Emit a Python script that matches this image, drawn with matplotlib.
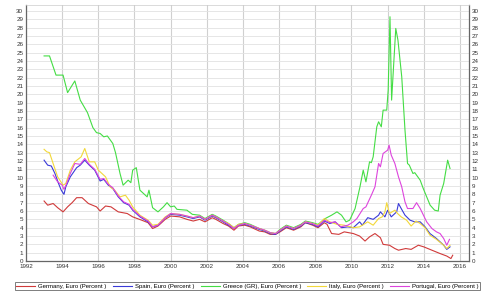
import matplotlib
matplotlib.use("Agg")
import matplotlib.pyplot as plt

plt.rcParams["font.family"] = ["Liberation Sans", "DejaVu Sans"]

# ---- data (decimal years, percent) ----
germany_x = [1993.0, 1993.2, 1993.5, 1993.75, 1994.05, 1994.3, 1994.55, 1994.8, 1995.1, 1995.45,
             1995.9, 1996.1, 1996.4, 1996.7, 1997.1, 1997.6, 1997.9, 1998.4, 1998.75, 1999.0,
             1999.3, 1999.7, 2000.0, 2000.5, 2000.9, 2001.25, 2001.6, 2001.9, 2002.3, 2002.5,
             2002.9, 2003.2, 2003.5, 2003.75, 2004.1, 2004.4, 2004.9, 2005.2, 2005.5, 2005.8,
             2006.05, 2006.4, 2006.8, 2007.2, 2007.45, 2007.85, 2008.15, 2008.5, 2008.65, 2008.9,
             2009.3, 2009.6, 2010.1, 2010.45, 2010.75, 2011.0, 2011.3, 2011.6, 2011.75, 2012.1,
             2012.4, 2012.6, 2013.0, 2013.3, 2013.7, 2014.0, 2014.45, 2014.9, 2015.27, 2015.5, 2015.6]
germany_y = [7.2, 6.7, 6.9, 6.4, 5.9, 6.5, 7.0, 7.6, 7.6, 6.9,
             6.5, 6.0, 6.6, 6.5, 5.9, 5.7, 5.3, 4.9, 4.6, 3.9,
             4.2, 5.0, 5.4, 5.3, 5.0, 4.8, 5.0, 4.7, 5.2, 5.0,
             4.5, 4.2, 3.7, 4.2, 4.3, 4.1, 3.6, 3.5, 3.2, 3.2,
             3.5, 4.0, 3.7, 4.1, 4.6, 4.3, 4.0, 4.6, 4.4, 3.3,
             3.2, 3.5, 3.3, 3.0, 2.4, 2.9, 3.3, 2.8, 2.0, 1.9,
             1.5, 1.3, 1.5, 1.4, 1.9, 1.7, 1.3, 0.9, 0.6, 0.3, 0.7]

spain_x = [1993.0, 1993.2, 1993.4, 1993.6, 1993.8, 1993.95, 1994.1, 1994.2, 1994.45, 1994.8,
           1995.0, 1995.25, 1995.5, 1995.8, 1996.1, 1996.3, 1996.55, 1996.8, 1997.1, 1997.4,
           1997.7, 1997.9, 1998.3, 1998.75, 1999.0, 1999.3, 1999.7, 2000.0, 2000.5, 2000.9,
           2001.25, 2001.6, 2001.9, 2002.3, 2002.5, 2002.9, 2003.2, 2003.5, 2003.75, 2004.1,
           2004.4, 2004.9, 2005.2, 2005.5, 2005.8, 2006.05, 2006.4, 2006.8, 2007.2, 2007.45,
           2007.85, 2008.15, 2008.5, 2008.8, 2009.1, 2009.45, 2009.8, 2010.1, 2010.45, 2010.6,
           2010.9, 2011.2, 2011.5, 2011.6, 2011.85, 2012.0, 2012.2, 2012.5, 2012.6, 2012.75,
           2012.96, 2013.24, 2013.5, 2013.8, 2014.07, 2014.34, 2014.7, 2015.1, 2015.27, 2015.45]
spain_y = [12.1, 11.5, 11.4, 10.5, 9.3, 8.5, 8.0, 8.9, 10.1, 11.2,
           11.5, 12.1, 11.5, 10.9, 9.6, 9.8, 9.1, 8.7, 7.7, 7.0,
           6.7, 6.1, 5.3, 4.7, 4.1, 4.3, 5.2, 5.6, 5.5, 5.3,
           5.1, 5.3, 4.9, 5.4, 5.2, 4.7, 4.3, 3.9, 4.3, 4.4,
           4.2, 3.8, 3.6, 3.3, 3.2, 3.6, 4.1, 3.8, 4.2, 4.6,
           4.4, 4.1, 4.8, 4.5, 4.7, 4.0, 4.1, 4.0, 4.7, 4.3,
           5.2, 5.0, 5.5, 5.9, 5.3, 6.1, 5.3, 5.9, 6.9, 6.3,
           5.5, 4.9, 4.7, 4.7, 4.1, 3.3, 2.7, 1.9, 1.4, 1.7]

greece_x = [1993.0, 1993.3, 1993.66, 1994.05, 1994.3, 1994.7, 1995.0, 1995.4, 1995.7, 1995.9,
            1996.1, 1996.3, 1996.5, 1996.8, 1996.95, 1997.2, 1997.37, 1997.65, 1997.8, 1997.9,
            1998.1, 1998.3, 1998.6, 1998.7, 1998.8, 1999.0, 1999.3, 1999.6, 1999.8, 2000.0,
            2000.2, 2000.35, 2000.9, 2001.2, 2001.6, 2001.9, 2002.3, 2002.5, 2002.9, 2003.2,
            2003.5, 2003.75, 2004.1, 2004.4, 2004.9, 2005.2, 2005.5, 2005.8, 2006.05, 2006.4,
            2006.8, 2007.2, 2007.45, 2007.85, 2008.15, 2008.55, 2008.9, 2009.2, 2009.45, 2009.7,
            2009.9, 2010.2, 2010.47, 2010.65, 2010.8, 2011.0, 2011.1, 2011.2, 2011.4, 2011.5,
            2011.65, 2011.75, 2011.95, 2012.03, 2012.13, 2012.22, 2012.45, 2012.57, 2012.78, 2012.96,
            2013.1, 2013.2, 2013.4, 2013.5, 2013.8, 2013.97, 2014.16, 2014.35, 2014.6, 2014.8,
            2014.9, 2015.1, 2015.32, 2015.45]
greece_y = [24.6, 24.6, 22.3, 22.3, 20.2, 21.6, 19.3, 17.8, 16.0, 15.4,
            15.3, 14.9, 15.0, 14.1, 13.0, 10.5, 9.1, 9.7, 9.4, 10.9,
            11.2, 8.5, 7.9, 7.7, 8.5, 6.4, 5.9, 6.5, 7.0, 6.5,
            6.6, 6.2, 6.1, 5.6, 5.5, 5.1, 5.6, 5.4, 4.9, 4.5,
            4.0, 4.4, 4.6, 4.4, 3.9, 3.7, 3.4, 3.3, 3.8, 4.3,
            4.0, 4.4, 4.8, 4.6, 4.4, 5.1, 5.5, 5.9, 5.5, 4.7,
            4.9, 6.3, 8.9, 10.9, 9.5, 11.9, 11.8, 12.5, 16.1, 16.7,
            16.1, 18.1, 18.1, 20.5, 29.3, 19.3, 27.9, 26.5, 22.1, 15.7,
            11.7, 11.5, 10.5, 10.6, 9.7, 8.7, 7.7, 6.7, 6.1, 6.0,
            7.9, 9.3, 12.1, 11.1]

italy_x = [1993.0, 1993.15, 1993.3, 1993.5, 1993.75, 1994.05, 1994.2, 1994.45, 1994.7, 1995.05,
           1995.25, 1995.5, 1995.8, 1996.0, 1996.2, 1996.4, 1996.65, 1996.9, 1997.2, 1997.5,
           1997.7, 1997.9, 1998.3, 1998.75, 1999.0, 1999.3, 1999.7, 2000.0, 2000.5, 2000.9,
           2001.25, 2001.6, 2001.9, 2002.3, 2002.5, 2002.9, 2003.2, 2003.5, 2003.75, 2004.1,
           2004.4, 2004.9, 2005.2, 2005.5, 2005.8, 2006.05, 2006.4, 2006.8, 2007.2, 2007.45,
           2007.85, 2008.15, 2008.5, 2008.8, 2009.2, 2009.6, 2010.1, 2010.45, 2010.9, 2011.2,
           2011.5, 2011.7, 2011.85, 2011.95, 2012.1, 2012.4, 2012.55, 2012.75, 2013.05, 2013.3,
           2013.57, 2013.8, 2014.07, 2014.34, 2014.7, 2015.1, 2015.27, 2015.45]
italy_y = [13.4, 13.1, 13.0, 11.7, 10.1, 9.1, 9.3, 10.9, 11.9, 12.5,
           13.5, 11.9, 11.9, 10.9, 10.5, 10.1, 8.9, 8.5, 7.7, 7.9,
           7.3, 6.5, 5.5, 4.9, 4.3, 4.4, 5.3, 5.7, 5.6, 5.4,
           5.2, 5.4, 5.0, 5.5, 5.3, 4.8, 4.5, 4.0, 4.4, 4.5,
           4.3, 3.9, 3.7, 3.4, 3.3, 3.7, 4.2, 3.9, 4.3, 4.7,
           4.5, 4.3, 5.1, 4.7, 4.4, 4.3, 4.0, 4.1, 4.7, 4.3,
           5.1, 5.3, 5.9, 7.0, 5.7, 6.1, 5.7, 5.3, 4.9, 4.2,
           4.8, 4.5, 4.0, 3.1, 2.6, 1.9, 1.5, 1.9]

portugal_x = [1993.5, 1993.75, 1994.0, 1994.1, 1994.25, 1994.45, 1994.7, 1995.0, 1995.25, 1995.5,
              1995.8, 1996.1, 1996.3, 1996.55, 1996.8, 1997.1, 1997.4, 1997.7, 1997.9, 1998.3,
              1998.75, 1999.0, 1999.3, 1999.7, 2000.0, 2000.5, 2000.9, 2001.25, 2001.6, 2001.9,
              2002.3, 2002.5, 2002.9, 2003.2, 2003.5, 2003.75, 2004.1, 2004.4, 2004.9, 2005.2,
              2005.5, 2005.8, 2006.05, 2006.4, 2006.8, 2007.2, 2007.45, 2007.85, 2008.15, 2008.5,
              2008.8, 2009.1, 2009.4, 2009.8, 2010.1, 2010.3, 2010.65, 2010.8, 2011.1, 2011.3,
              2011.5, 2011.6, 2011.75, 2012.0, 2012.08, 2012.2, 2012.4, 2012.6, 2012.78, 2012.96,
              2013.1, 2013.4, 2013.6, 2013.8, 2014.16, 2014.45, 2014.7, 2014.9, 2015.1, 2015.27, 2015.42]
portugal_y = [10.3, 9.5, 9.1, 8.6, 9.3, 10.5, 11.7, 11.6, 12.3, 11.6,
              11.0, 9.8, 9.9, 9.2, 8.8, 7.8, 7.1, 6.8, 6.2, 5.4,
              4.8, 4.1, 4.3, 5.2, 5.7, 5.6, 5.4, 5.2, 5.4, 5.0,
              5.5, 5.3, 4.8, 4.4, 3.9, 4.3, 4.5, 4.3, 3.9, 3.7,
              3.4, 3.3, 3.7, 4.2, 3.9, 4.3, 4.7, 4.5, 4.2, 4.9,
              4.6, 4.7, 4.1, 4.3, 4.7, 5.1, 6.3, 6.5, 7.9, 8.9,
              11.7, 11.3, 12.9, 13.3, 13.9, 12.7, 11.7, 10.1, 8.9, 7.1,
              6.3, 6.3, 7.0, 6.3, 4.7, 3.9, 3.5, 3.3, 2.7, 1.9, 2.6]

labels = ["Germany, Euro (Percent )", "Spain, Euro (Percent )", "Greece (GR), Euro (Percent )",
          "Italy, Euro (Percent )", "Portugal, Euro (Percent )"]
colors = ["#d03a3a", "#3a3ad8", "#44dd44", "#f2d83a", "#dd44dd"]
year_ticks = list(range(1992, 2017, 2))


def main():
    fig = plt.figure(figsize=(5.0, 2.98), dpi=100)
    ax = fig.add_axes([0.052, 0.124, 0.886, 0.859])

    series = [(germany_x, germany_y), (spain_x, spain_y), (greece_x, greece_y),
              (italy_x, italy_y), (portugal_x, portugal_y)]
    for (xs, ys), lab, col in zip(series, labels, colors):
        ax.plot(xs, ys, color=col, linewidth=0.8, label=lab)

    ax.set_xlim(1992, 2016.5)
    ax.set_ylim(0, 30.7)
    ax.set_xticks(year_ticks)
    ax.set_xticklabels([str(y) for y in year_ticks])
    ax.set_yticks(range(0, 31))
    ax.tick_params(axis="both", labelsize=4.5, length=0, pad=2, colors="#333333")
    ax.tick_params(axis="y", labelright=True, right=True)

    # grid: horizontal every unit, vertical every 2 years
    ax.grid(True, axis="y", color="#e2e2e2", linewidth=0.6)
    ax.grid(True, axis="x", color="#d0d0d0", linewidth=0.8)
    ax.set_axisbelow(True)

    for side in ["left", "right", "bottom"]:
        ax.spines[side].set_color("#666666")
        ax.spines[side].set_linewidth(0.9)
    ax.spines["top"].set_color("#cccccc")
    ax.spines["top"].set_linewidth(0.5)

    leg = fig.legend(loc="center", bbox_to_anchor=(0.495, 0.040), ncol=5, fontsize=4.3,
                     frameon=True, fancybox=False, handlelength=3.2, columnspacing=1.05,
                     handletextpad=0.5, borderpad=0.25, borderaxespad=0)
    leg.get_frame().set_edgecolor("#444444")
    leg.get_frame().set_linewidth(0.6)

    fig.savefig("out.png", dpi=100)


if __name__ == "__main__":
    main()
